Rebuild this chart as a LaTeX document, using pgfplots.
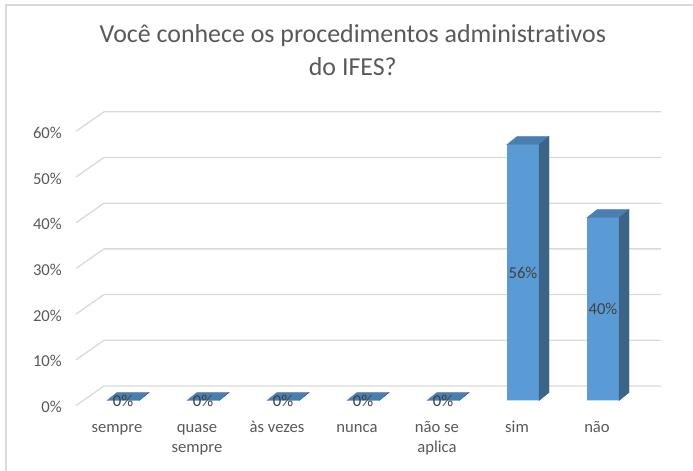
\documentclass[border=0pt]{standalone}
\usepackage{fontspec}
\setmainfont{Carlito}[Ligatures=NoCommon]
\usepackage{pgfplots}
\usepackage{pgfplotstable}
\pgfplotsset{compat=1.18}

\definecolor{barfront}{HTML}{5B9BD5}
\definecolor{bartop}{HTML}{4A7EB0}
\definecolor{barside}{HTML}{3C6489}
\definecolor{gridc}{HTML}{D9D9D9}
\definecolor{txt}{HTML}{595959}
\definecolor{lbl}{HTML}{404040}

\pgfdeclareplotmark{nothing}{}

\pgfplotstableread{
x  pct
0  0
1  0
2  0
3  0
4  0
5  56
6  40
}\dados

\begin{document}
\begin{tikzpicture}
\draw[gridc, line width=1.5bp] (6bp,0) -- (6bp,466bp) -- (693bp,466bp);
\begin{axis}[
  at={(76bp,70.5bp)}, anchor=south west,
  x=80bp, y=4.57bp,
  xmin=-0.5875, xmax=6.375, ymin=0, ymax=60,
  set layers, clip=false,
  axis line style={draw=none},
  major tick length=0pt,
  typeset ticklabels with strut,
  xtick={0,...,6},
  xticklabels={sempre, quase\\sempre, às vezes, nunca, não se\\aplica, sim, não},
  xticklabel style={align=center, text=txt, font=\fontsize{16.7}{20}\selectfont,
    inner sep=0pt, anchor=north, xshift=-6bp, yshift=-18bp},
  ytick={0,10,...,60},
  yticklabel={\pgfmathprintnumber{\tick}\%},
  yticklabel style={text=txt, font=\fontsize{16.7}{20}\selectfont,
    inner sep=0pt, anchor=east, xshift=-14bp, yshift=-6.5bp},
  /pgf/number format/assume math mode=true,
  title={Você conhece os procedimentos administrativos\\do IFES?},
  title style={at={(0.497,1.2546)}, anchor=center, align=center, text=txt,
    font=\fontsize{26}{33}\selectfont},
]
\begin{pgfonlayer}{axis background}
\pgfplotsinvokeforeach{0,10,...,60}{
  \draw[gridc, line width=1.3bp] ([yshift=-5bp]axis cs:-0.5875,#1)
    -- ([xshift=28bp,yshift=14.5bp]axis cs:-0.5875,#1)
    -- ([xshift=28bp,yshift=14.5bp]axis cs:6.375,#1);
}
\end{pgfonlayer}

% front faces
\addplot[ybar, bar width=32bp, fill=barfront, draw=none] table[x=x,y=pct]{\dados};

% top and side faces
\addplot[only marks, mark=nothing, scatter, point meta=y,
  visualization depends on={rawy \as \val},
  scatter/@pre marker code/.code={%
    \pgfmathsetmacro\h{\val*4.57}%
    \fill[bartop] (-16bp,0pt) -- (16bp,0pt) -- (26bp,8bp) -- (-6bp,8bp) -- cycle;
    \fill[barside] (16bp,0pt) -- (26bp,8bp) -- (26bp,8bp-\h bp) -- (16bp,-\h bp) -- cycle;
  },
  scatter/@post marker code/.code={},
] table[x=x,y=pct]{\dados};

% data labels
\addplot[only marks, mark=nothing, point meta=y,
  visualization depends on={rawy \as \val},
  nodes near coords={\pgfmathprintnumber{\pgfplotspointmeta}\%},
  nodes near coords style={anchor=center, text=lbl, inner sep=0pt,
    font=\fontsize{16.7}{20}\selectfont, yshift=-\val*2.285bp},
] table[x=x,y=pct]{\dados};
\end{axis}
\pgfresetboundingbox
\path[use as bounding box] (0,0) rectangle (693bp,471bp);
\end{tikzpicture}
\end{document}
